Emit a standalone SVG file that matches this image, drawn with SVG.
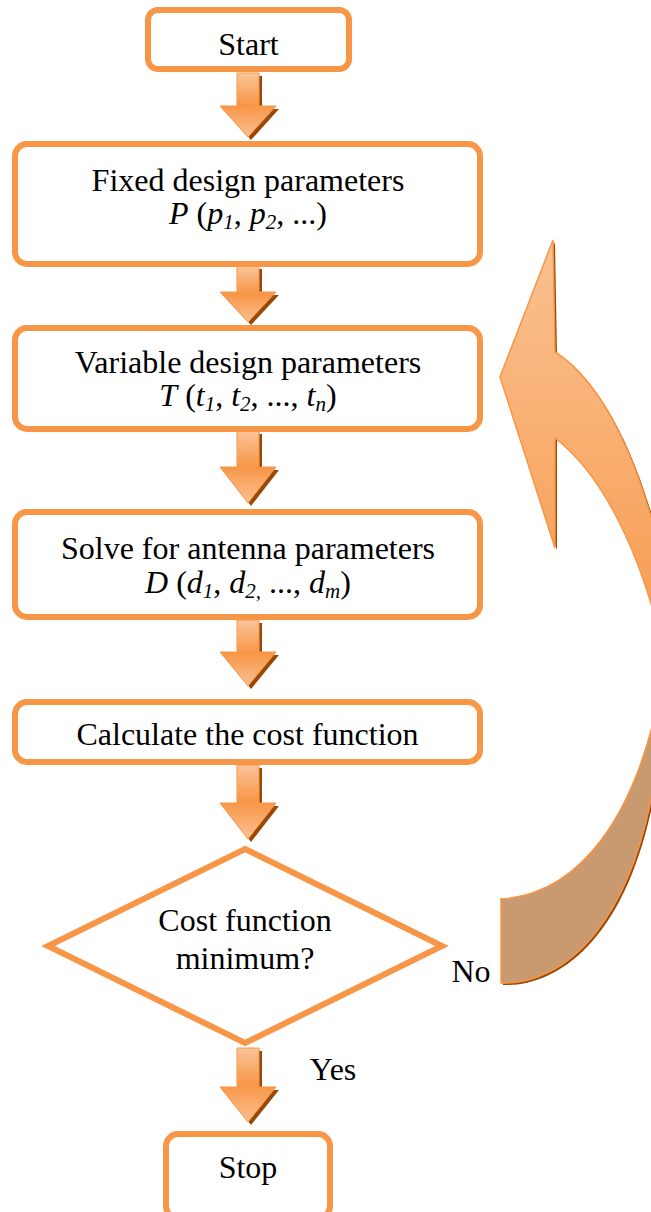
<svg xmlns="http://www.w3.org/2000/svg" width="651" height="1212" viewBox="0 0 651 1212">
  <defs>
    <linearGradient id="blockFill" x1="0" y1="0" x2="0" y2="1">
      <stop offset="0" stop-color="#FBC59A"/>
      <stop offset="0.5" stop-color="#F79646"/>
      <stop offset="1" stop-color="#FBC093"/>
    </linearGradient>
    <linearGradient id="loopFill" gradientUnits="userSpaceOnUse" x1="0" y1="240" x2="0" y2="700">
      <stop offset="0" stop-color="#FAC191"/>
      <stop offset="1" stop-color="#F79646"/>
    </linearGradient>
    <style>
      .box { fill: #fff; stroke: #F79646; stroke-width: 6; }
      .lbl { font-family: "Liberation Serif", "Times New Roman", serif; font-size: 32px; fill: #000; text-anchor: middle; }
      .it { font-style: italic; }
      .sub { font-size: 21px; font-style: italic; }
      .arrow { fill: url(#blockFill); stroke: #F79646; stroke-width: 1; }
      .shadow { fill: #984807; }
      .loop { stroke: #F79646; stroke-width: 1.5; }
    </style>
  </defs>

  <!-- block arrows and the return loop -->
  <g id="connectors">
    <!-- Start -> Fixed -->
    <polygon class="shadow" transform="translate(3,3)" points="237,73 259,73 259,106 276,106 248,137 220,106 237,106"/>
    <polygon class="arrow" points="237,73 259,73 259,106 276,106 248,137 220,106 237,106"/>
    <!-- Fixed -> Variable -->
    <polygon class="shadow" transform="translate(3,3)" points="237,266 259,266 259,292 276,292 248,322 220,292 237,292"/>
    <polygon class="arrow" points="237,266 259,266 259,292 276,292 248,322 220,292 237,292"/>
    <!-- Variable -> Solve -->
    <polygon class="shadow" transform="translate(3,3)" points="237,431 259,431 259,467 276,467 248,503 220,467 237,467"/>
    <polygon class="arrow" points="237,431 259,431 259,467 276,467 248,503 220,467 237,467"/>
    <!-- Solve -> Calculate -->
    <polygon class="shadow" transform="translate(3,3)" points="237,620 259,620 259,652 276,652 248,686 220,652 237,652"/>
    <polygon class="arrow" points="237,620 259,620 259,652 276,652 248,686 220,652 237,652"/>
    <!-- Calculate -> decision -->
    <polygon class="shadow" transform="translate(3,3)" points="237,765 259,765 259,803 276,803 248,839 220,803 237,803"/>
    <polygon class="arrow" points="237,765 259,765 259,803 276,803 248,839 220,803 237,803"/>
    <!-- decision -> Stop (Yes) -->
    <polygon class="shadow" transform="translate(3,3)" points="237,1048 259,1048 259,1087 276,1087 248,1122 220,1087 237,1087"/>
    <polygon class="arrow" points="237,1048 259,1048 259,1087 276,1087 248,1122 220,1087 237,1087"/>

    <!-- curved return arrow (No) -->
    <g id="loop-arrow">
      <g class="shadow" transform="translate(2,2)">
        <path d="M553,240 L500,377 L555,548 L555,438 C590,465 640,530 670,680 L700,700 L700,580 L670,600 C645,460 600,380 555,352 Z"/>
        <path d="M501,899 C570,895 645,830 668,640 L700,640 L700,780 L660,740 C640,930 560,985 501,983 Z"/>
      </g>
      <path class="loop" fill="#C99A70" d="M501,899 C570,895 645,830 668,640 L700,640 L700,780 L660,740 C640,930 560,985 501,983 Z"/>
      <path class="loop" fill="url(#loopFill)" d="M553,240 L500,377 L555,548 L555,438 C590,465 640,530 670,680 L700,700 L700,580 L670,600 C645,460 600,380 555,352 Z"/>
    </g>
  </g>

  <g id="start">
    <rect class="box" x="148" y="10" width="201" height="59" rx="10"/>
    <text class="lbl" x="248.5" y="55">Start</text>
  </g>

  <g id="fixed-params">
    <rect class="box" x="15" y="144" width="465" height="120" rx="12"/>
    <text class="lbl" x="248" y="191">Fixed design parameters</text>
    <text class="lbl" x="248" y="224"><tspan class="it">P</tspan> (<tspan class="it">p</tspan><tspan class="sub" dy="5">1</tspan><tspan dy="-5">, </tspan><tspan class="it">p</tspan><tspan class="sub" dy="5">2</tspan><tspan dy="-5">, ...)</tspan></text>
  </g>

  <g id="variable-params">
    <rect class="box" x="15" y="328" width="465" height="101" rx="12"/>
    <text class="lbl" x="248" y="373">Variable design parameters</text>
    <text class="lbl" x="248" y="406"><tspan class="it">T</tspan> (<tspan class="it">t</tspan><tspan class="sub" dy="5">1</tspan><tspan dy="-5">, </tspan><tspan class="it">t</tspan><tspan class="sub" dy="5">2</tspan><tspan dy="-5">, ..., </tspan><tspan class="it">t</tspan><tspan class="sub" dy="5">n</tspan><tspan dy="-5">)</tspan></text>
  </g>

  <g id="solve">
    <rect class="box" x="15" y="512" width="465" height="105" rx="12"/>
    <text class="lbl" x="248" y="559">Solve for antenna parameters</text>
    <text class="lbl" x="248" y="593"><tspan class="it">D</tspan> (<tspan class="it">d</tspan><tspan class="sub" dy="5">1</tspan><tspan dy="-5">, </tspan><tspan class="it">d</tspan><tspan class="sub" dy="5">2,</tspan><tspan dy="-5"> ..., </tspan><tspan class="it">d</tspan><tspan class="sub" dy="5">m</tspan><tspan dy="-5">)</tspan></text>
  </g>

  <g id="cost">
    <rect class="box" x="15" y="702" width="465" height="60" rx="12"/>
    <text class="lbl" x="247.5" y="745">Calculate the cost function</text>
  </g>

  <g id="decision">
    <polygon class="box" points="245,849 442,946 245,1043 48,946"/>
    <text class="lbl" x="245" y="931">Cost function</text>
    <text class="lbl" x="245" y="969">minimum?</text>
  </g>

  <g id="edge-labels">
    <text class="lbl" x="471" y="982">No</text>
    <text class="lbl" x="333" y="1080">Yes</text>
  </g>

  <g id="stop">
    <rect class="box" x="166" y="1134" width="164" height="84" rx="12"/>
    <text class="lbl" x="248" y="1178">Stop</text>
  </g>
</svg>
